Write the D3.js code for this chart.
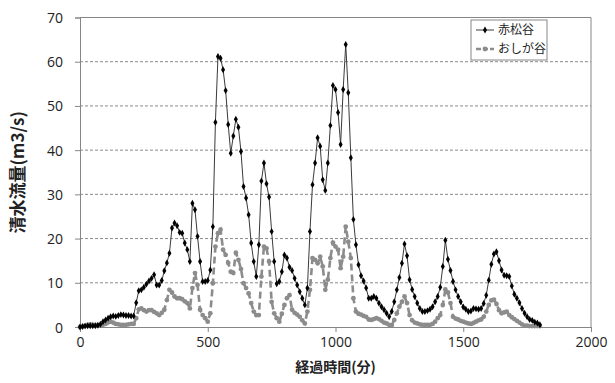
<!DOCTYPE html>
<html>
<head>
<meta charset="utf-8">
<script src="https://cdn.jsdelivr.net/npm/d3@7"></script>
<style>
  body { margin: 0; background: #fff; }
  svg { display: block; }
  .tick text { font-family: "Open Sans", "Noto Sans", sans-serif; font-size: 14px; fill: #222; }
</style>
</head>
<body>
<div id="chart"></div>
<script>
// 経過時間(分)
const minutes = [
  0, 10, 20, 30, 40, 50, 60, 70, 80, 90,
  100, 110, 120, 130, 140, 150, 160, 170, 180, 190,
  200, 210, 220, 230, 240, 250, 260, 270, 280, 290,
  300, 310, 320, 330, 340, 350, 360, 370, 380, 390,
  400, 410, 420, 430, 440, 450, 460, 470, 480, 490,
  500, 510, 520, 530, 540, 550, 560, 570, 580, 590,
  600, 610, 620, 630, 640, 650, 660, 670, 680, 690,
  700, 710, 720, 730, 740, 750, 760, 770, 780, 790,
  800, 810, 820, 830, 840, 850, 860, 870, 880, 890,
  900, 910, 920, 930, 940, 950, 960, 970, 980, 990,
  1000, 1010, 1020, 1030, 1040, 1050, 1060, 1070, 1080, 1090,
  1100, 1110, 1120, 1130, 1140, 1150, 1160, 1170, 1180, 1190,
  1200, 1210, 1220, 1230, 1240, 1250, 1260, 1270, 1280, 1290,
  1300, 1310, 1320, 1330, 1340, 1350, 1360, 1370, 1380, 1390,
  1400, 1410, 1420, 1430, 1440, 1450, 1460, 1470, 1480, 1490,
  1500, 1510, 1520, 1530, 1540, 1550, 1560, 1570, 1580, 1590,
  1600, 1610, 1620, 1630, 1640, 1650, 1660, 1670, 1680, 1690,
  1700, 1710, 1720, 1730, 1740, 1750, 1760, 1770, 1780, 1790,
  1800
];

// 赤松谷
const akamatsu = [
  0, 0.1, 0.2, 0.3, 0.3, 0.3, 0.3, 0.4, 0.6, 1.2,
  1.6, 2.0, 2.3, 2.5, 2.4, 2.6, 2.8, 2.7, 2.6, 2.6,
  2.5, 2.5, 5.5, 8.2, 8.4, 9.0, 9.7, 10.4, 11.0, 11.8,
  9.5, 9.5, 10.5, 12.7, 14.5, 16.7, 22.4, 23.5, 22.9, 21.4,
  21.2, 19.0, 17.5, 14.8, 28.0, 26.5, 20.5, 14.8, 10.3, 10.3,
  10.5, 12.9, 22.7, 46.3, 61.2, 60.8, 58.2, 53.5, 45.8, 39.3,
  43.2, 47.0, 45.2, 39.7, 31.8, 29.2, 25.4, 19.0, 14.8, 11.4,
  18.6, 33.0, 37.1, 32.4, 29.4, 21.6, 14.8, 9.8, 10.3, 12.5,
  16.3, 15.6, 13.5, 12.8, 11.0, 9.5, 8.0, 6.5, 5.0, 8.8,
  21.6, 32.2, 37.1, 42.8, 40.9, 33.3, 30.9, 37.1, 45.6, 54.6,
  53.7, 48.5, 41.3, 53.7, 63.9, 53.0, 38.3, 24.3, 18.6, 14.1,
  11.6, 10.4, 8.8, 6.5, 6.5, 6.9, 6.5, 5.4, 4.6, 3.9,
  3.1, 2.3, 3.5, 5.7, 8.4, 11.2, 14.4, 18.8, 16.1, 10.7,
  8.5, 6.9, 5.4, 4.2, 3.5, 3.5, 3.7, 4.0, 4.6, 5.7,
  6.9, 9.0, 13.7, 19.6, 15.3, 12.8, 10.3, 8.4, 6.9, 5.7,
  4.5, 4.0, 3.5, 3.6, 4.2, 4.1, 4.0, 4.2, 5.3, 7.2,
  10.6, 14.2, 16.5, 17.0, 15.0, 12.9, 11.7, 11.6, 11.4, 9.3,
  7.4, 6.5, 5.5, 4.2, 3.1, 2.3, 1.7, 1.5, 1.1, 0.9,
  0.5
];

// おしが谷
const oshiga = [
  0, 0.1, 0.3, 0.5, 0.6, 0.5, 0.5, 0.4, 0.4, 0.5,
  0.7, 1.0, 1.2, 1.0, 0.7, 0.6, 0.5, 0.5, 0.5, 0.6,
  0.7, 0.7, 2.0, 4.0, 4.2, 3.8, 3.5, 3.8, 3.8, 3.4,
  3.1, 2.7, 3.2, 3.9, 6.1, 8.4, 7.8, 6.9, 6.5, 6.5,
  6.3, 5.8, 5.4, 4.2, 8.8, 12.2, 9.5, 3.9, 2.7, 2.0,
  1.2, 3.1, 9.9, 18.2, 21.2, 22.0, 17.5, 16.3, 14.5, 12.5,
  12.2, 16.8, 15.2, 13.1, 9.9, 8.8, 7.6, 5.4, 3.5, 2.7,
  2.7, 11.4, 18.2, 17.8, 14.8, 5.7, 3.1, 2.0, 1.2, 3.0,
  5.0, 6.5, 7.2, 3.9, 3.2, 2.8, 2.3, 1.5, 0.8, 3.5,
  8.4, 15.6, 15.2, 14.4, 15.9, 13.7, 8.4, 10.7, 15.6, 19.1,
  18.2, 17.5, 13.3, 15.9, 22.7, 19.3, 15.6, 6.5, 3.5, 3.0,
  2.8, 2.5, 2.3, 1.7, 1.6, 1.8, 2.0, 1.8, 1.4, 1.0,
  0.8, 0.5, 0.4, 1.6, 3.1, 4.6, 5.7, 6.9, 5.4, 2.7,
  1.5, 1.0, 0.8, 0.6, 0.5, 0.5, 0.5, 0.5, 0.7, 1.2,
  2.0, 2.7, 5.0, 8.5, 7.8, 5.4, 2.3, 1.9, 1.7, 1.4,
  1.2, 1.0, 0.8, 0.7, 0.9, 1.2, 1.5, 1.7, 2.3, 3.5,
  5.0, 6.0, 6.2, 5.2, 3.8, 3.1, 3.3, 3.5, 2.7, 2.2,
  1.8, 1.4, 1.0, 0.6, 0.3, 0.3, 0.2, 0.2, 0.2, 0.2,
  0.2
];

const xTicks = [0, 500, 1000, 1500, 2000];
const yTicks = [0, 10, 20, 30, 40, 50, 60, 70];
const seriesNames = ['赤松谷', 'おしが谷'];

const width = 615, height = 383;
const plot = { left: 80, right: 591, top: 17.5, bottom: 327 };
const axisColor = '#868686';

const svg = d3.select('#chart').append('svg')
  .attr('width', width).attr('height', height);

const x = d3.scaleLinear().domain([0, 2000]).range([plot.left, plot.right]);
const y = d3.scaleLinear().domain([0, 70]).range([plot.bottom, plot.top]);

// grid lines
svg.append('g').attr('class', 'grid')
  .selectAll('line').data(yTicks.filter(v => v > 0 && v < 70)).join('line')
  .attr('x1', plot.left).attr('x2', plot.right)
  .attr('y1', d => y(d)).attr('y2', d => y(d))
  .attr('stroke', '#8a8a8a').attr('stroke-width', 1)
  .attr('stroke-dasharray', '3,2');

// plot border (top + right)
svg.append('path')
  .attr('d', `M${plot.left},${y(70)}H${plot.right}V${plot.bottom}`)
  .attr('fill', 'none').attr('stroke', axisColor).attr('stroke-width', 1);

const yAxis = svg.append('g')
  .attr('transform', `translate(${plot.left},0)`)
  .call(d3.axisLeft(y).tickValues(yTicks).tickSize(5).tickPadding(12));
const xAxis = svg.append('g')
  .attr('transform', `translate(0,${plot.bottom})`)
  .call(d3.axisBottom(x).tickValues(xTicks).tickFormat(d3.format('d'))
    .tickSize(5).tickPadding(5));

[xAxis, yAxis].forEach(a => {
  a.selectAll('.domain').attr('stroke', axisColor);
  a.selectAll('.tick line').attr('stroke', axisColor);
});
yAxis.selectAll('.tick text').attr('dy', '0.36em');

const pts = (vals) => vals.map((v, i) => [minutes[i], v]);
const line = d3.line().x(d => x(d[0])).y(d => y(d[1]));
const diamond = d3.symbol().type(d3.symbolDiamond).size(14);

// おしが谷 (grey dashed, circle markers)
const grey = '#8c8c8c';
svg.append('path').datum(pts(oshiga))
  .attr('d', line).attr('fill', 'none')
  .attr('stroke', grey).attr('stroke-width', 2.6)
  .attr('stroke-dasharray', '7,4');
svg.append('g').selectAll('circle').data(pts(oshiga)).join('circle')
  .attr('cx', d => x(d[0])).attr('cy', d => y(d[1])).attr('r', 2.4)
  .attr('fill', grey);

// 赤松谷 (thin line, black diamonds)
svg.append('path').datum(pts(akamatsu))
  .attr('d', line).attr('fill', 'none')
  .attr('stroke', '#3a3a3a').attr('stroke-width', 1);
svg.append('g').selectAll('path').data(pts(akamatsu)).join('path')
  .attr('d', diamond)
  .attr('transform', d => `translate(${x(d[0])},${y(d[1])})`)
  .attr('fill', '#000');

// legend
const legend = svg.append('g').attr('transform', 'translate(471,20)');
legend.append('rect').attr('width', 76).attr('height', 40)
  .attr('fill', '#fff').attr('stroke', axisColor);
const legendItems = legend.selectAll('g.item').data(seriesNames).join('g')
  .attr('class', 'item')
  .attr('transform', (d, i) => `translate(0,${10 + i * 19})`);
legendItems.append('line').attr('x1', 5).attr('x2', 23)
  .attr('stroke', (d, i) => i === 0 ? '#3a3a3a' : grey)
  .attr('stroke-width', (d, i) => i === 0 ? 1 : 2.6)
  .attr('stroke-dasharray', (d, i) => i === 0 ? null : '5,2');
legendItems.each(function (d, i) {
  const g = d3.select(this);
  if (i === 0) g.append('path').attr('d', diamond).attr('transform', 'translate(14,0)').attr('fill', '#000');
  else g.append('circle').attr('cx', 14).attr('r', 2.4).attr('fill', grey);
});
legendItems.append('text').attr('x', 27).attr('dy', '0.35em')
  .attr('font-family', '"Noto Sans CJK JP", sans-serif').attr('font-size', 12)
  .attr('fill', '#222').text(d => d);

// axis titles
svg.append('text')
  .attr('transform', `translate(24,${(plot.top + plot.bottom) / 2}) rotate(-90)`)
  .attr('text-anchor', 'middle')
  .attr('font-family', '"Noto Sans CJK JP", sans-serif')
  .attr('font-size', 17).attr('font-weight', 'bold').attr('fill', '#222')
  .text('清水流量(m3/s)');
svg.append('text')
  .attr('x', x(1000)).attr('y', 372)
  .attr('text-anchor', 'middle')
  .attr('font-family', '"Noto Sans CJK JP", sans-serif')
  .attr('font-size', 14).attr('font-weight', 'bold').attr('fill', '#222')
  .text('経過時間(分)');
</script>
</body>
</html>
